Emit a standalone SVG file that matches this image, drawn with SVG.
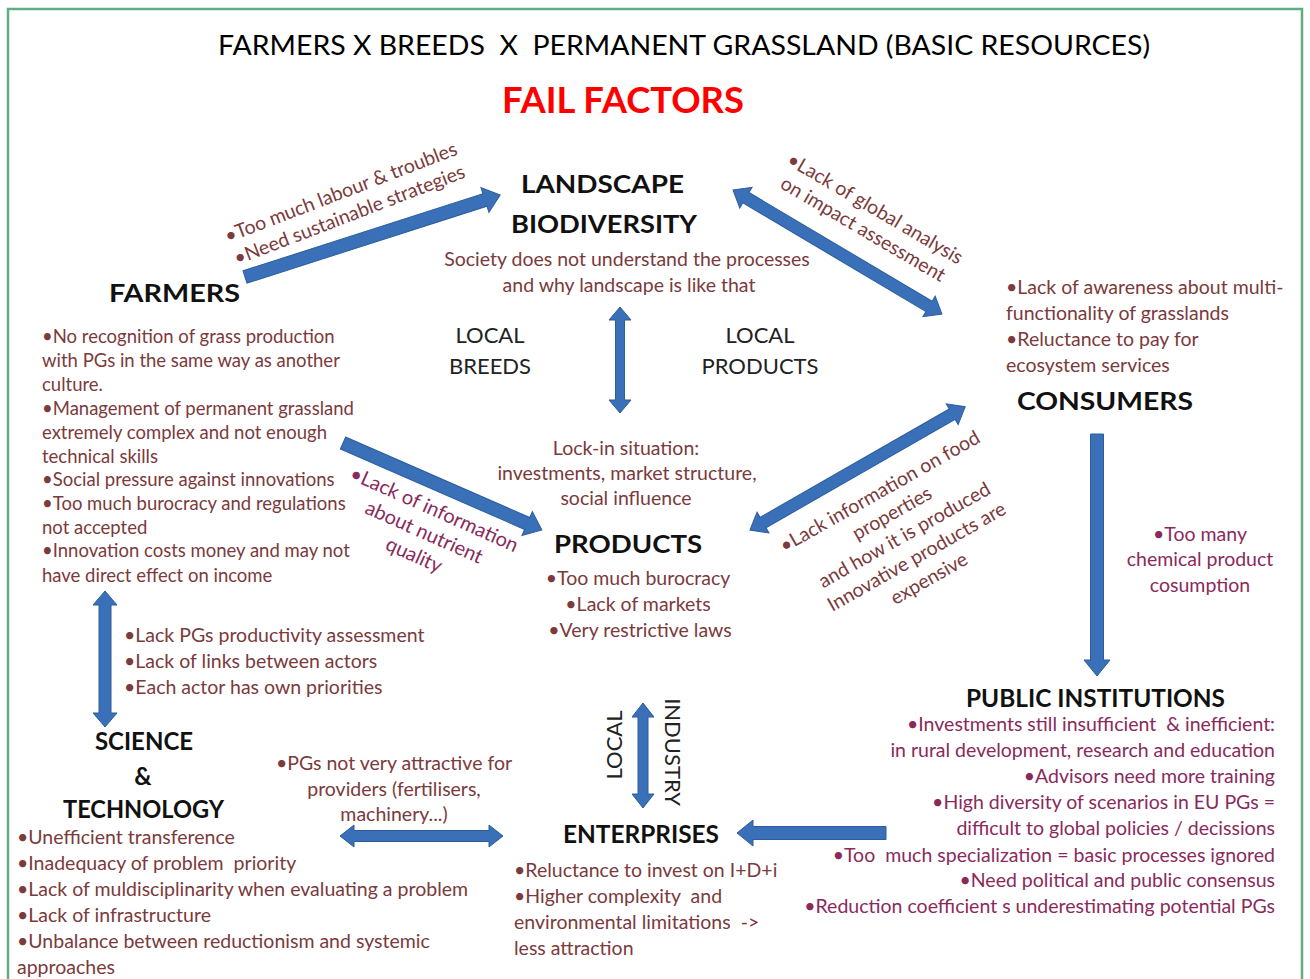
<svg xmlns="http://www.w3.org/2000/svg" width="1310" height="979" viewBox="0 0 1310 979">
<style>
text{font-family:Lato,"Open Sans","Liberation Sans",sans-serif;}
.t{font-size:19.5px;fill:#7b3a3c;}
.f{font-size:18.5px;fill:#7b3a3c;}
.p{font-size:19.5px;fill:#8a2a5c;}
.h{font-size:25.5px;font-weight:700;fill:#111;}
.lb{font-size:22px;fill:#222;}
.m{text-anchor:middle;}
.e{text-anchor:end;}
.arr{fill:#3a70b8;stroke:#2c5d9c;stroke-width:1;}
</style>
<rect x="0" y="0" width="1310" height="979" fill="#fff"/>
<rect x="8" y="9" width="1294" height="1000" fill="#fff" stroke="#5fae82" stroke-width="2.5"/>

<g id="title">
<text x="218" y="55" textLength="932" lengthAdjust="spacingAndGlyphs" xml:space="preserve" style="font-size:27px;fill:#000">FARMERS X BREEDS  X  PERMANENT GRASSLAND (BASIC RESOURCES)</text>
<text x="502" y="113" textLength="242" lengthAdjust="spacingAndGlyphs" style="font-size:36px;font-weight:700;fill:#f00">FAIL FACTORS</text>
</g>

<g id="connectors">
<polygon class="arr" transform="translate(245,277) rotate(-17.8)" points="0,-6.5 252,-6.5 252,-13 268,0 252,13 252,6.5 0,6.5"/>
<polygon class="arr" transform="translate(733,190) rotate(30.7)" points="0,0 15,-12 15,-6 228,-6 228,-12 243,0 228,12 228,6 15,6 15,12"/>
<polygon class="arr" transform="translate(343,443) rotate(23.6)" points="0,-6.5 201,-6.5 201,-13 217,0 201,13 201,6.5 0,6.5"/>
<polygon class="arr" transform="translate(750,530) rotate(-29.8)" points="0,0 15,-12 15,-6 233,-6 233,-12 248,0 233,12 233,6 15,6 15,12"/>
<polygon class="arr" transform="translate(620,307) rotate(90)" points="0,0 13,-11 13,-4.5 93,-4.5 93,-11 106,0 93,11 93,4.5 13,4.5 13,11"/>
<polygon class="arr" transform="translate(1097,434) rotate(90)" points="0,-6.5 226,-6.5 226,-13 242,0 226,13 226,6.5 0,6.5"/>
<polygon class="arr" transform="translate(105,591) rotate(90)" points="0,0 14,-12 14,-6 122,-6 122,-12 136,0 122,12 122,6 14,6 14,12"/>
<polygon class="arr" transform="translate(643,703) rotate(90)" points="0,0 14,-11 14,-5 91,-5 91,-11 105,0 91,11 91,5 14,5 14,11"/>
<polygon class="arr" transform="translate(340,836)" points="0,0 14,-11 14,-5.5 149,-5.5 149,-11 163,0 149,11 149,5.5 14,5.5 14,11"/>
<polygon class="arr" transform="translate(886,833) rotate(180)" points="0,-6.5 133,-6.5 133,-13 149,0 133,13 133,6.5 0,6.5"/>

<g transform="translate(341,193) rotate(-21)">
<text class="t m" x="0" y="6">•Too much labour &amp; troubles</text>
<text class="t m" x="0" y="30">•Need sustainable strategies</text>
</g>
<g transform="translate(875,209) rotate(30.5)">
<text class="t m" x="0" y="6">•Lack of global analysis</text>
<text class="t m" x="0" y="30">on impact assessment</text>
</g>
<g transform="translate(434,510) rotate(24)">
<text class="p m" x="0" y="6" style="font-size:20px">•Lack of information</text>
<text class="p m" x="0" y="31" style="font-size:20px">about nutrient</text>
<text class="p m" x="0" y="56" style="font-size:20px">quality</text>
</g>
<g transform="translate(880,492) rotate(-29.5)">
<text class="t m" x="0" y="6">•Lack information on food</text>
<text class="t m" x="0" y="31">properties</text>
<text class="t m" x="0" y="56">and how it is produced</text>
<text class="t m" x="0" y="81">Innovative products are</text>
<text class="t m" x="0" y="106">expensive</text>
</g>
<text class="p m" x="1200" y="541">•Too many</text>
<text class="p m" x="1200" y="566">chemical product</text>
<text class="p m" x="1200" y="592">cosumption</text>
<text class="t" x="124" y="642">•Lack PGs productivity assessment</text>
<text class="t" x="124" y="668">•Lack of links between actors</text>
<text class="t" x="124" y="694">•Each actor has own priorities</text>
<text class="t m" x="394" y="770">•PGs not very attractive for</text>
<text class="t m" x="394" y="796">providers (fertilisers,</text>
<text class="t m" x="394" y="821">machinery...)</text>
<text class="lb m" transform="translate(622,745) rotate(-90)">LOCAL</text>
<text class="lb m" transform="translate(665,752) rotate(90)">INDUSTRY</text>
</g>

<g id="landscape">
<text class="h" x="521" y="193" textLength="163" lengthAdjust="spacingAndGlyphs">LANDSCAPE</text>
<text class="h" x="511" y="233" textLength="186" lengthAdjust="spacingAndGlyphs">BIODIVERSITY</text>
<text class="t m" x="627" y="266">Society does not understand the processes</text>
<text class="t m" x="629" y="292">and why landscape is like that</text>
</g>

<g id="local-breeds">
<text class="lb m" x="490" y="343">LOCAL</text>
<text class="lb m" x="490" y="374">BREEDS</text>
</g>

<g id="local-products">
<text class="lb m" x="760" y="343">LOCAL</text>
<text class="lb m" x="760" y="374">PRODUCTS</text>
</g>

<g id="farmers">
<text class="h" x="109" y="302" textLength="131" lengthAdjust="spacingAndGlyphs">FARMERS</text>
<text class="f" x="42" y="343">•No recognition of grass production</text>
<text class="f" x="42" y="367">with PGs in the same way as another</text>
<text class="f" x="42" y="391">culture.</text>
<text class="f" x="42" y="415">•Management of permanent grassland</text>
<text class="f" x="42" y="439">extremely complex and not enough</text>
<text class="f" x="42" y="463">technical skills</text>
<text class="f" x="42" y="486">•Social pressure against innovations</text>
<text class="f" x="42" y="510">•Too much burocracy and regulations</text>
<text class="f" x="42" y="534">not accepted</text>
<text class="f" x="42" y="557">•Innovation costs money and may not</text>
<text class="f" x="42" y="582">have direct effect on income</text>
</g>

<g id="products">
<text class="t m" x="626" y="455">Lock-in situation:</text>
<text class="t m" x="627" y="480">investments, market structure,</text>
<text class="t m" x="626" y="505">social influence</text>
<text class="h" x="554" y="553" textLength="148" lengthAdjust="spacingAndGlyphs">PRODUCTS</text>
<text class="t m" x="638" y="585">•Too much burocracy</text>
<text class="t m" x="638" y="611">•Lack of markets</text>
<text class="t m" x="640" y="637">•Very restrictive laws</text>
</g>

<g id="consumers">
<text class="t" x="1006" y="294">•Lack of awareness about multi-</text>
<text class="t" x="1006" y="320">functionality of grasslands</text>
<text class="t" x="1006" y="346">•Reluctance to pay for</text>
<text class="t" x="1006" y="372">ecosystem services</text>
<text class="h" x="1017" y="410" textLength="176" lengthAdjust="spacingAndGlyphs">CONSUMERS</text>
</g>

<g id="public-institutions">
<text class="h" x="966" y="707" style="font-size:24px" textLength="259" lengthAdjust="spacingAndGlyphs">PUBLIC INSTITUTIONS</text>
<text class="p e" x="1275" y="731" xml:space="preserve">•Investments still insufficient  &amp; inefficient:</text>
<text class="p e" x="1275" y="757">in rural development, research and education</text>
<text class="p e" x="1275" y="783">•Advisors need more training</text>
<text class="p e" x="1275" y="809">•High diversity of scenarios in EU PGs =</text>
<text class="p e" x="1275" y="835">difficult to global policies / decissions</text>
<text class="p e" x="1275" y="862" xml:space="preserve">•Too  much specialization = basic processes ignored</text>
<text class="p e" x="1275" y="887">•Need political and public consensus</text>
<text class="p e" x="1275" y="913">•Reduction coefficient s underestimating potential PGs</text>
</g>

<g id="science-technology">
<text class="h m" x="144" y="750" style="font-size:24px">SCIENCE</text>
<text class="h m" x="143" y="785" style="font-size:24px">&amp;</text>
<text class="h" x="63" y="818" style="font-size:24px" textLength="161" lengthAdjust="spacingAndGlyphs">TECHNOLOGY</text>
<text class="t" x="17" y="844">•Unefficient transference</text>
<text class="t" x="17" y="870" xml:space="preserve">•Inadequacy of problem  priority</text>
<text class="t" x="17" y="896">•Lack of muldisciplinarity when evaluating a problem</text>
<text class="t" x="17" y="922">•Lack of infrastructure</text>
<text class="t" x="17" y="948">•Unbalance between reductionism and systemic</text>
<text class="t" x="17" y="974">approaches</text>
</g>

<g id="enterprises">
<text class="h" x="563" y="843" style="font-size:24px" textLength="156" lengthAdjust="spacingAndGlyphs">ENTERPRISES</text>
<text class="t" x="514" y="877">•Reluctance to invest on I+D+i</text>
<text class="t" x="514" y="903" xml:space="preserve">•Higher complexity  and</text>
<text class="t" x="514" y="929" xml:space="preserve">environmental limitations  -&gt;</text>
<text class="t" x="514" y="955">less attraction</text>
</g>
</svg>
